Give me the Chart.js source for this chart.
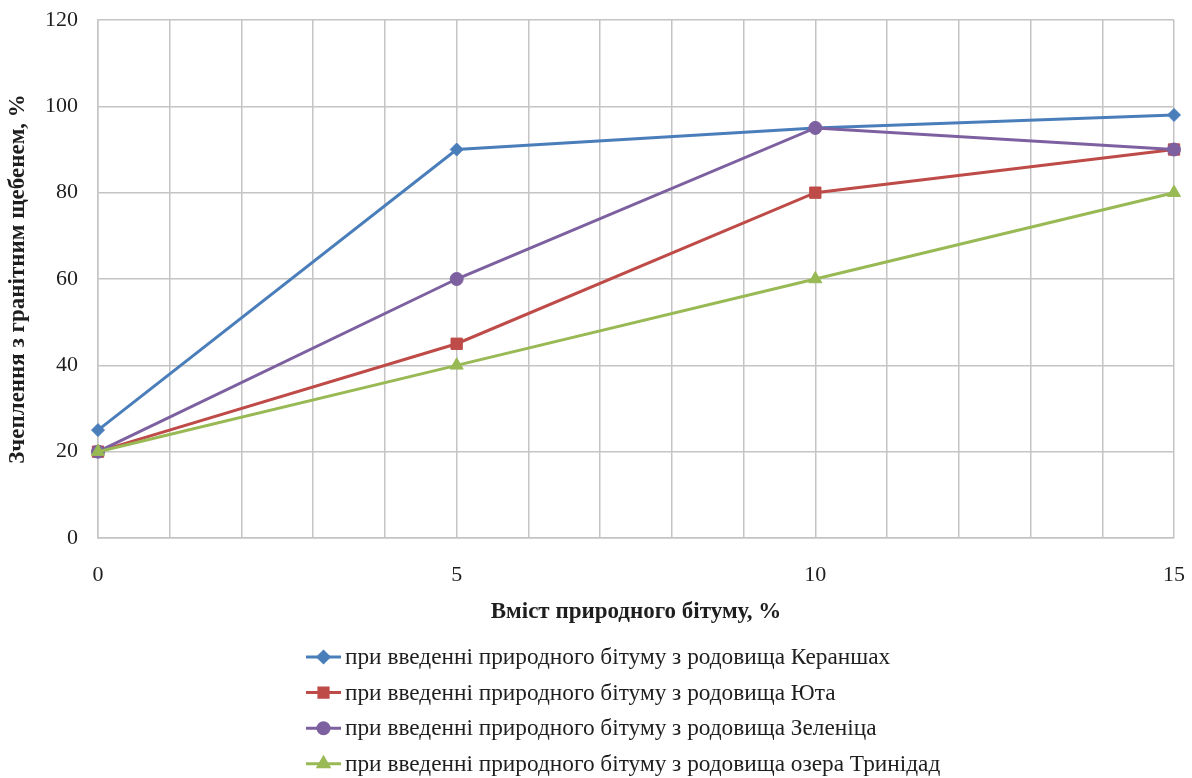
<!DOCTYPE html>
<html>
<head>
<meta charset="utf-8">
<script src="https://cdn.jsdelivr.net/npm/chart.js@4.4.1/dist/chart.umd.min.js"></script>
<style>
  html, body { margin: 0; padding: 0; background: #fff; }
  #wrap { width: 1192px; height: 778px; }
</style>
</head>
<body>
<div id="wrap"><canvas id="lineChart" width="1192" height="778"></canvas></div>
<script>
// bitumen content, %
var bitumen = [0, 5, 10, 15];
var xTicks = [0, 5, 10, 15];
var yTicks = [0, 20, 40, 60, 80, 100, 120];

// adhesion to granite crushed stone, %
var keranshah = [25, 90, 95, 98];
var yuta = [20, 45, 80, 90];
var zelenica = [20, 60, 95, 90];
var trinidad = [20, 40, 60, 80];

var seriesNames = [
  'при введенні природного бітуму з родовища Кераншах',
  'при введенні природного бітуму з родовища Юта',
  'при введенні природного бітуму з родовища Зеленіца',
  'при введенні природного бітуму з родовища озера Тринідад'
];

var FONT = '"Liberation Serif", "Times New Roman", serif';
var GRID = '#c4c4c4';
var TEXT = '#1e1e1e';

function points(values) {
  return bitumen.map(function (x, i) { return { x: x, y: values[i] }; });
}

// later series sit on top of earlier ones
function series(idx, values, color, style, radius, legendRadius) {
  return {
    label: seriesNames[idx],
    data: points(values),
    order: 3 - idx,
    borderColor: color,
    backgroundColor: color,
    borderWidth: 3,
    pointStyle: style,
    pointRadius: radius,
    pointBorderWidth: 1,
    pointHoverRadius: radius,
    legendRadius: legendRadius,
    clip: false,
    tension: 0
  };
}

// legend as a vertical list under the x axis title
var listLegend = {
  id: 'listLegend',
  afterDraw: function (chart) {
    var ctx = chart.ctx;
    var x0 = 306, lineLen = 35, y0 = 657, step = 35.6;
    ctx.save();
    chart.data.datasets.forEach(function (ds, i) {
      var y = y0 + i * step;
      ctx.strokeStyle = ds.borderColor;
      ctx.lineWidth = 3;
      ctx.beginPath();
      ctx.moveTo(x0, y);
      ctx.lineTo(x0 + lineLen, y);
      ctx.stroke();
      ctx.fillStyle = ds.backgroundColor;
      Chart.helpers.drawPoint(ctx, {
        pointStyle: ds.pointStyle,
        radius: ds.legendRadius,
        rotation: 0,
        borderWidth: 1
      }, x0 + lineLen / 2, y);
      ctx.fillStyle = TEXT;
      ctx.font = '23.3px ' + FONT;
      ctx.textBaseline = 'middle';
      ctx.textAlign = 'left';
      ctx.fillText(ds.label, x0 + lineLen + 4, y + 1);
    });
    ctx.restore();
  }
};

var ctx = document.getElementById('lineChart').getContext('2d');
new Chart(ctx, {
  type: 'line',
  data: {
    datasets: [
      series(0, keranshah, '#4a7ebb', 'rectRot', 6.5, 5.5),
      series(1, yuta, '#be4b48', 'rect', 8, 6.5),
      series(2, zelenica, '#7d60a0', 'circle', 6.5, 5.5),
      series(3, trinidad, '#98b954', 'triangle', 7.5, 6)
    ]
  },
  options: {
    responsive: false,
    animation: false,
    layout: { padding: { top: 20, right: 18, bottom: 140, left: 0 } },
    plugins: {
      legend: { display: false },
      tooltip: { enabled: false }
    },
    scales: {
      x: {
        type: 'linear',
        min: 0,
        max: 15,
        grid: { color: GRID, lineWidth: 1.5, drawTicks: false },
        border: { color: GRID, width: 1.5 },
        afterFit: function (axis) {
          axis.height = 100;
          axis.paddingLeft = 0;
          axis.paddingRight = 0;
        },
        ticks: {
          stepSize: 1,
          padding: 24,
          autoSkip: false,
          maxRotation: 0,
          color: TEXT,
          font: { family: FONT, size: 22 },
          callback: function (v) { return xTicks.indexOf(v) >= 0 ? String(v) : ''; }
        },
        title: {
          display: true,
          text: 'Вміст природного бітуму, %',
          color: TEXT,
          font: { family: FONT, size: 23, weight: 'bold' },
          padding: { top: 0, bottom: 12 }
        }
      },
      y: {
        min: 0,
        max: 120,
        grid: { color: GRID, lineWidth: 1.5, drawTicks: false },
        border: { color: GRID, width: 1.5 },
        afterBuildTicks: function (axis) {
          axis.ticks = yTicks.map(function (v) { return { value: v }; });
        },
        afterFit: function (axis) {
          axis.width = 98;
          axis.paddingTop = 0;
          axis.paddingBottom = 0;
        },
        ticks: {
          padding: 20,
          color: TEXT,
          font: { family: FONT, size: 22 }
        },
        title: {
          display: true,
          text: 'Зчеплення з гранітним щебенем, %',
          color: TEXT,
          font: { family: FONT, size: 23, weight: 'bold' },
          padding: { top: 4, bottom: 0 }
        }
      }
    }
  },
  plugins: [listLegend]
});
</script>
</body>
</html>
